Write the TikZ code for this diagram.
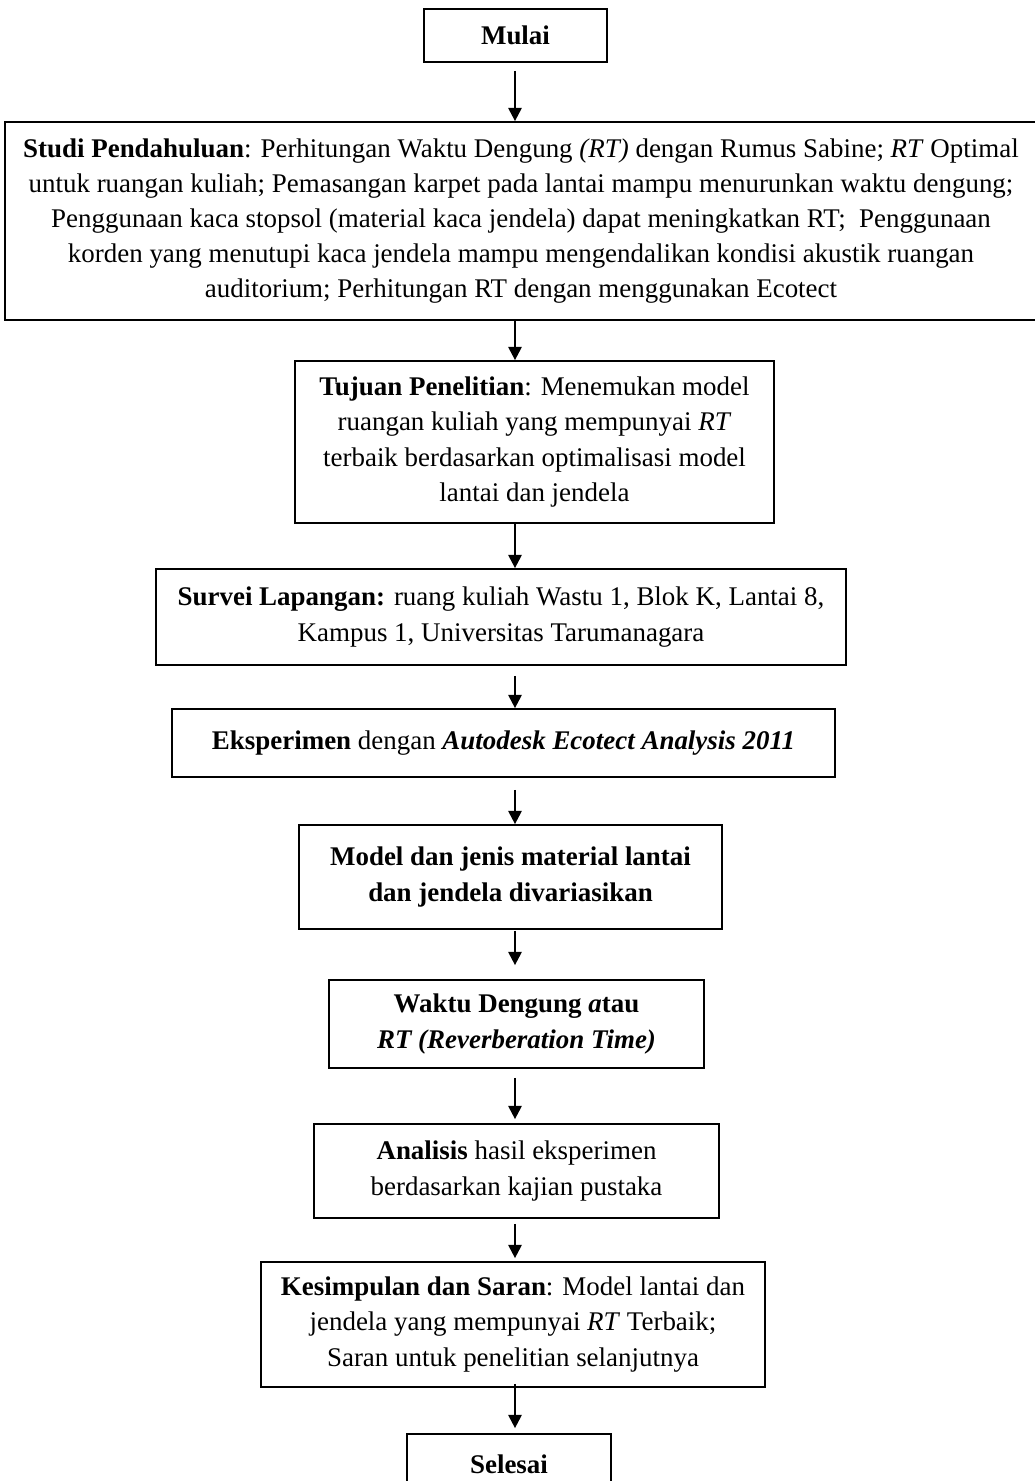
\documentclass[tikz,border=0pt]{standalone}
\usepackage{fontspec}
\setmainfont{Liberation Serif}
\usetikzlibrary{arrows.meta}

\begin{document}
\begin{tikzpicture}[x=0.4528pt, y=-0.4528pt]
	\tikzset{
		flowbox/.style={rectangle, draw=black, line width=0.8pt, inner sep=0pt, align=center, font=\fontsize{12.2}{15.9}\selectfont},
		flowarrow/.style={-{Triangle[width=6pt, length=6pt]}, line width=1pt},
		boxsize/.style 2 args={minimum width=#1*0.4528pt, minimum height=#2*0.4528pt}
	}

	\useasboundingbox (0,0) rectangle (1035,1481);
	\coordinate (axis) at (515,0);

	\node[flowbox, boxsize={183}{53}] (mulai) at (515.5,35.5) {\textbf{Mulai}};

	\node[flowbox, boxsize={1032}{198}] (studi) at (521,221) {\textbf{Studi Pendahuluan}: Perhitungan Waktu Dengung \textit{(RT)} dengan Rumus Sabine; \textit{RT} Optimal\\
		untuk ruangan kuliah; Pemasangan karpet pada lantai mampu menurunkan waktu dengung;\\
		Penggunaan kaca stopsol (material kaca jendela) dapat meningkatkan RT;\ \ Penggunaan\\
		korden yang menutupi kaca jendela mampu mengendalikan kondisi akustik ruangan\\
		auditorium; Perhitungan RT dengan menggunakan Ecotect};

	\node[flowbox, boxsize={479}{162}] (tujuan) at (534.5,442) {\textbf{Tujuan Penelitian}: Menemukan model\\
		ruangan kuliah yang mempunyai \textit{RT}\\
		terbaik berdasarkan optimalisasi model\\
		lantai dan jendela};

	\node[flowbox, boxsize={690}{96}] (survei) at (501,617) {\textbf{Survei Lapangan:} ruang kuliah Wastu 1, Blok K, Lantai 8,\\
		Kampus 1, Universitas Tarumanagara};

	\node[flowbox, boxsize={663}{68}] (eksperimen) at (503.5,743) {\textbf{Eksperimen} dengan \textbf{\textit{Autodesk Ecotect Analysis 2011}}};

	\node[flowbox, boxsize={423}{104}] (model) at (510.5,877) {\textbf{Model dan jenis material lantai}\\
		\textbf{dan jendela divariasikan}};

	\node[flowbox, boxsize={375}{88}] (waktu) at (516.5,1024) {\textbf{Waktu Dengung \textit{a}tau}\\
		\textbf{\textit{RT (Reverberation Time)}}};

	\node[flowbox, boxsize={405}{94}] (analisis) at (516.5,1171) {\textbf{Analisis} hasil eksperimen\\
		berdasarkan kajian pustaka};

	\node[flowbox, boxsize={504}{125}] (kesimpulan) at (513,1324.5) {\textbf{Kesimpulan dan Saran}: Model lantai dan\\
		jendela yang mempunyai \textit{RT} Terbaik;\\
		Saran untuk penelitian selanjutnya};

	\node[flowbox, boxsize={204}{60}] (selesai) at (509,1464) {\textbf{Selesai}};

	% connectors down the middle
	\draw[flowarrow, shorten <=8*0.4528pt] (axis |- mulai.south) -- (axis |- studi.north);
	\draw[flowarrow] (axis |- studi.south) -- (axis |- tujuan.north);
	\draw[flowarrow] (axis |- tujuan.south) -- (axis |- survei.north);
	\draw[flowarrow, shorten <=10*0.4528pt] (axis |- survei.south) -- (axis |- eksperimen.north);
	\draw[flowarrow, shorten <=12*0.4528pt] (axis |- eksperimen.south) -- (axis |- model.north);
	\draw[flowarrow, shorten <=1*0.4528pt, shorten >=14*0.4528pt] (axis |- model.south) -- (axis |- waktu.north);
	\draw[flowarrow, shorten <=9*0.4528pt, shorten >=4*0.4528pt] (axis |- waktu.south) -- (axis |- analisis.north);
	\draw[flowarrow, shorten <=5*0.4528pt, shorten >=3*0.4528pt] (axis |- analisis.south) -- (axis |- kesimpulan.north);
	\draw[flowarrow, shorten <=-4*0.4528pt, shorten >=5*0.4528pt] (axis |- kesimpulan.south) -- (axis |- selesai.north);
\end{tikzpicture}
\end{document}
